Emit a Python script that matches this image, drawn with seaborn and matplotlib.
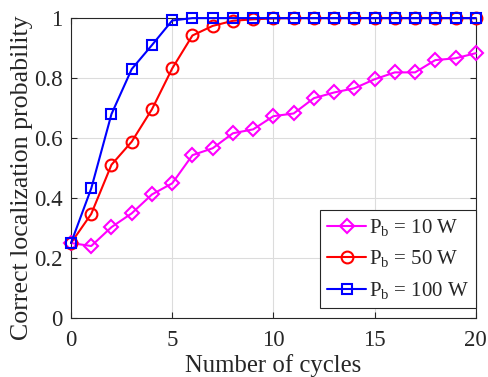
import numpy as np
import pandas as pd
import matplotlib
matplotlib.use("Agg")
import matplotlib.pyplot as plt
import seaborn as sns
from matplotlib.ticker import FuncFormatter

cycles = list(range(21))
p_10w = [0.25, 0.24, 0.303, 0.349, 0.412, 0.449, 0.543, 0.566, 0.616, 0.629, 0.673,
         0.682, 0.733, 0.752, 0.766, 0.796, 0.819, 0.819, 0.86, 0.866, 0.883]
p_50w = [0.25, 0.347, 0.511, 0.588, 0.696, 0.832, 0.942, 0.974, 0.991, 0.996, 0.999,
         1.0, 1.0, 1.0, 1.0, 1.0, 1.0, 1.0, 1.0, 1.0, 1.0]
p_100w = [0.25, 0.432, 0.68, 0.83, 0.91, 0.992, 1.0, 1.0, 1.0, 1.0, 1.0,
          1.0, 1.0, 1.0, 1.0, 1.0, 1.0, 1.0, 1.0, 1.0, 1.0]
labels = [r'$\mathrm{P_b}$ = 10 W', r'$\mathrm{P_b}$ = 50 W', r'$\mathrm{P_b}$ = 100 W']

sns.set_style("ticks")
plt.rcParams['font.family'] = ['Liberation Serif', 'DejaVu Serif']
plt.rcParams['mathtext.fontset'] = 'custom'
plt.rcParams['mathtext.rm'] = 'Liberation Serif'
plt.rcParams['mathtext.it'] = 'Liberation Serif:italic'

fig = plt.figure(figsize=(4.88, 3.77), dpi=100)
ax = fig.add_axes([0.1455, 0.1565, 0.8295, 0.7955])

series = [(p_10w, '#ff00ff', 'D', 7.5), (p_50w, '#ff0000', 'o', 8.5), (p_100w, '#0000ff', 's', 7.5)]
for (vals, col, mk, ms), lab in zip(series, labels):
    df = pd.DataFrame({'cycles': cycles, 'prob': vals})
    sns.lineplot(data=df, x='cycles', y='prob', ax=ax, color=col, marker=mk,
                 markersize=ms, markerfacecolor='none', markeredgecolor=col,
                 markeredgewidth=1.5, linewidth=1.5, label=lab, clip_on=False, zorder=3)

ax.set_xlim(0, 20)
ax.set_ylim(0, 1)
ax.set_xticks([0, 5, 10, 15, 20])
ax.set_yticks([0, 0.2, 0.4, 0.6, 0.8, 1])
ax.yaxis.set_major_formatter(FuncFormatter(lambda v, p: '%g' % v))
ax.grid(True, color='#dcdcdc', linewidth=0.8)
ax.set_axisbelow(True)
ax.tick_params(direction='in', top=True, right=True, length=4, labelsize=16.5, width=0.8)
ax.tick_params(axis='x', pad=9)
ax.tick_params(axis='y', pad=6)
for s in ax.spines.values():
    s.set_linewidth(0.8)
    s.set_color('#262626')
ax.set_xlabel('Number of cycles', fontsize=17.8, labelpad=1.5)
ax.set_ylabel('Correct localization probability', fontsize=18.6)
ax.yaxis.set_label_coords(-0.094, 0.468)

leg = ax.legend(loc='lower right', bbox_to_anchor=(1.0, 0.033), fontsize=15, frameon=True,
                fancybox=False, edgecolor='#262626', framealpha=1, handlelength=1.9,
                handletextpad=0.1, borderpad=0.35, labelspacing=0.5, borderaxespad=0)
leg.get_frame().set_linewidth(0.8)

fig.savefig('out.png', dpi=100)
